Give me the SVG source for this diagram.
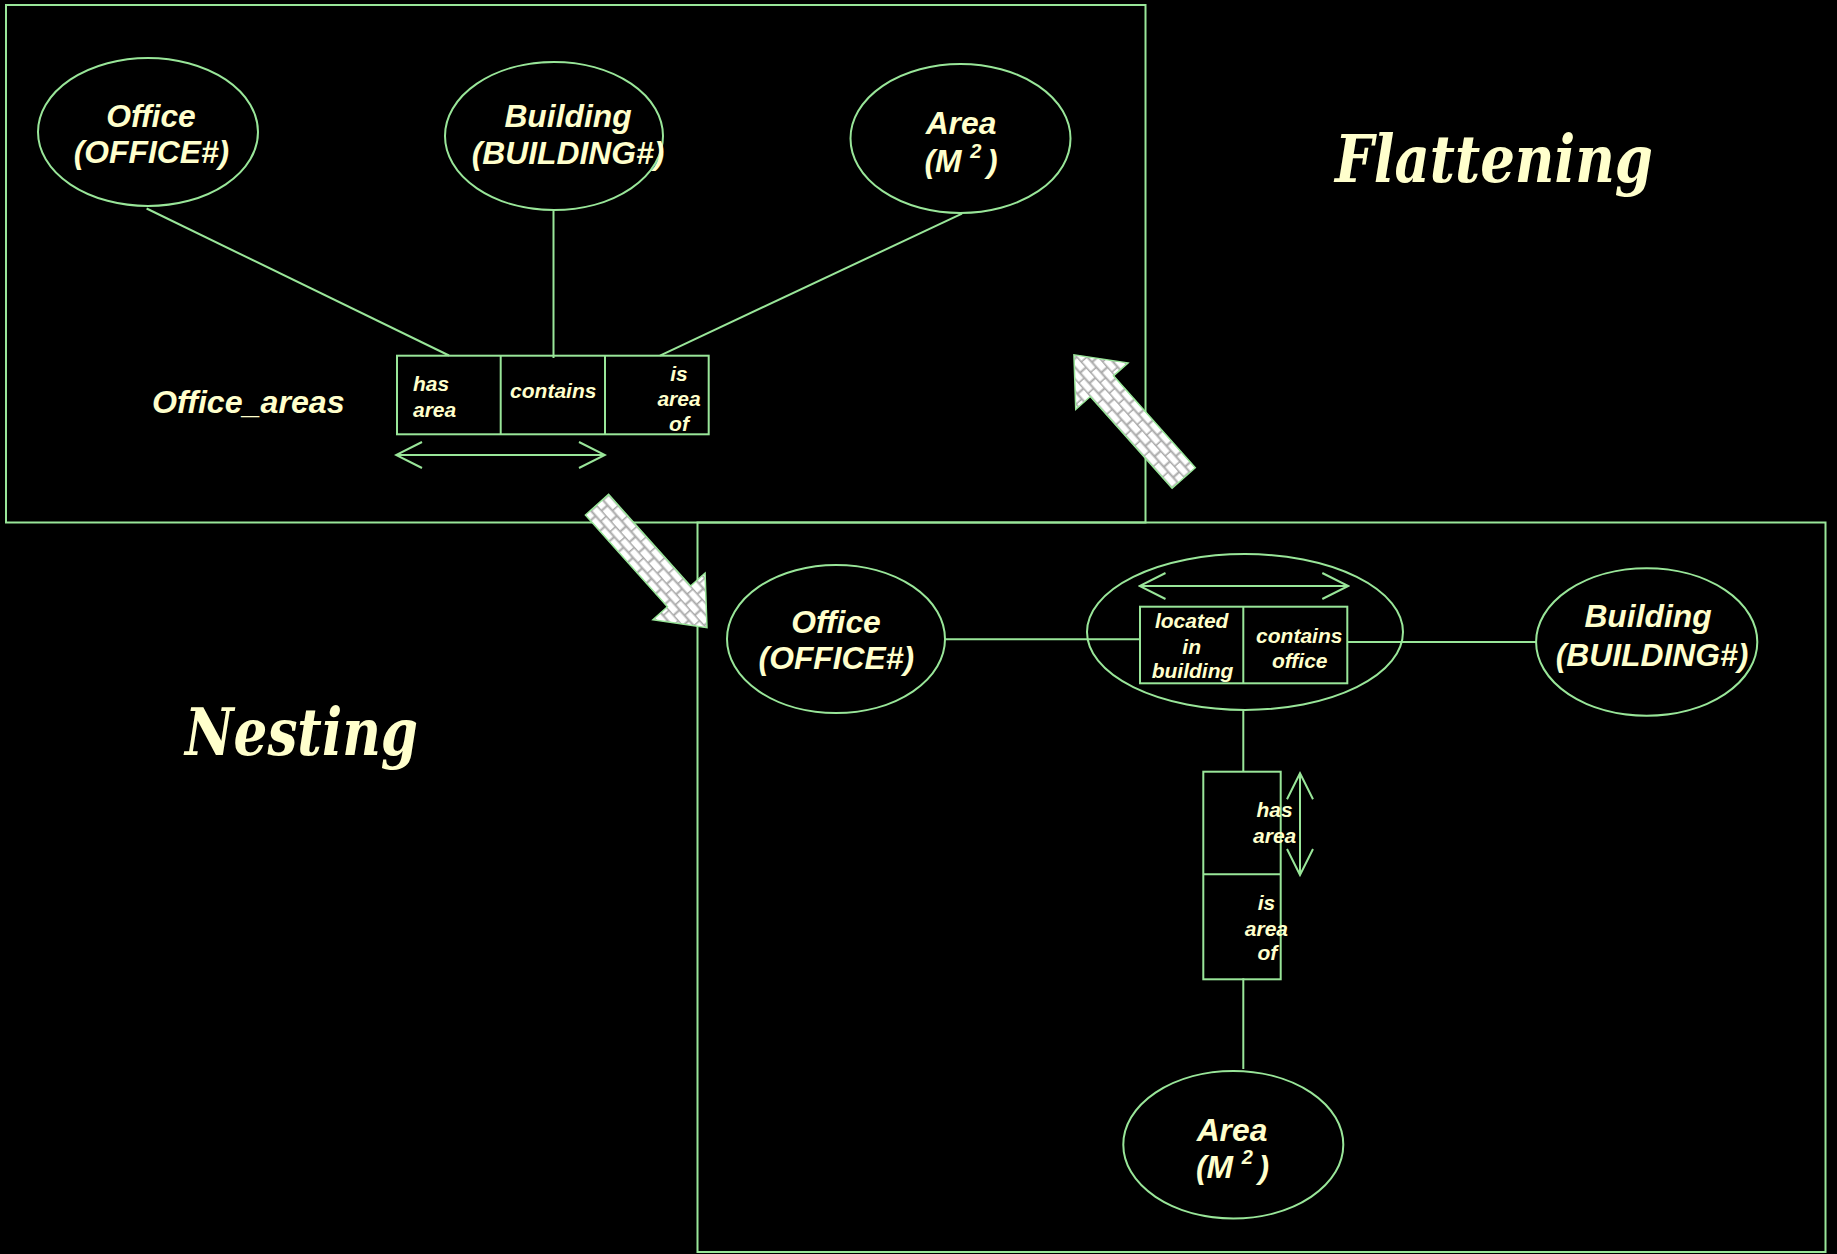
<svg xmlns="http://www.w3.org/2000/svg" width="1837" height="1254" viewBox="0 0 1837 1254">
<style>
.ln{fill:none;stroke:#99e699;stroke-width:2}
.box{fill:none;stroke:#99e699;stroke-width:2}
.ell{fill:none;stroke:#99e699;stroke-width:2}
.t{font-family:"Liberation Sans",Arial,sans-serif;font-weight:bold;font-style:italic;fill:#ffffcc}
.ent{font-size:31.8px;text-anchor:middle}
.rel{font-size:21px}
.mid{text-anchor:middle}
.title{font-family:"DejaVu Serif Condensed","DejaVu Serif",serif;font-weight:bold;font-style:italic;font-size:66px;fill:#ffffcc}
.bigarrow{fill:url(#brick);stroke:#99e699;stroke-width:1.5}
</style>
<defs>
<marker id="chev" viewBox="-28 -15 30 30" refX="0" refY="0" markerWidth="30" markerHeight="30" markerUnits="userSpaceOnUse" orient="auto-start-reverse">
<path d="M-26,-13 L0,0 L-26,13" fill="none" stroke="#99e699" stroke-width="2"/>
</marker>
<pattern id="brick" width="14" height="16" patternUnits="userSpaceOnUse">
<rect width="14" height="16" fill="#ffffff"/>
<path d="M0,0.5 H14 M0,8.5 H14 M0.5,0 V8 M7.5,8 V16" stroke="#a8a8a8" stroke-width="2" fill="none"/>
</pattern>
<path id="fatarrow" d="M0,-15.5 L123,-15.5 L123,-35 L165,0 L123,35 L123,15.5 L0,15.5 Z"/>
</defs>
<rect x="0" y="0" width="1837" height="1254" fill="#000000"/>

<g id="frame-flattening">
<rect class="box" x="6" y="5" width="1139.5" height="517.5"/>
</g>
<g id="frame-nesting">
<rect class="box" x="697.5" y="522.5" width="1128" height="729.5"/>
</g>

<g id="connectors">
<line class="ln" x1="146.6" y1="208.5" x2="449" y2="355.5"/>
<line class="ln" x1="553.5" y1="210" x2="553.5" y2="358"/>
<line class="ln" x1="962" y1="213.6" x2="660" y2="355.6"/>
<line class="ln" x1="396" y1="455" x2="605" y2="455" marker-start="url(#chev)" marker-end="url(#chev)"/>
<line class="ln" x1="945" y1="639.3" x2="1140" y2="639.3"/>
<line class="ln" x1="1347.3" y1="642" x2="1537" y2="642"/>
<line class="ln" x1="1243.3" y1="710" x2="1243.3" y2="771.7"/>
<line class="ln" x1="1243.3" y1="978.3" x2="1243.3" y2="1069"/>
<line class="ln" x1="1139.5" y1="586" x2="1348.3" y2="586" marker-start="url(#chev)" marker-end="url(#chev)"/>
<line class="ln" x1="1300" y1="773.3" x2="1300" y2="875" marker-start="url(#chev)" marker-end="url(#chev)"/>
<use href="#fatarrow" class="bigarrow" transform="translate(597,504.7) rotate(48.2)"/>
<use href="#fatarrow" class="bigarrow" transform="translate(1183.7,478) rotate(-131.7)"/>
</g>

<g id="title-flattening">
<text class="title" x="1335" y="181.7" textLength="318" lengthAdjust="spacingAndGlyphs">Flattening</text>
</g>
<g id="title-nesting">
<text class="title" x="185" y="755" textLength="233" lengthAdjust="spacingAndGlyphs">Nesting</text>
</g>

<g id="f-office">
<ellipse class="ell" cx="148" cy="132" rx="110" ry="74"/>
<text class="t ent" x="151" y="127.3">Office</text>
<text class="t ent" x="151.5" y="163.3">(OFFICE#)</text>
</g>
<g id="f-building">
<ellipse class="ell" cx="554" cy="136" rx="109" ry="74"/>
<text class="t ent" x="568" y="126.5">Building</text>
<text class="t ent" x="568" y="164">(BUILDING#)</text>
</g>
<g id="f-area">
<ellipse class="ell" cx="960.5" cy="138.5" rx="110" ry="74.5"/>
<text class="t ent" x="961" y="133.5">Area</text>
<text class="t ent" x="961" y="171.5"><tspan>(M </tspan><tspan dy="-14" font-size="20">2 </tspan><tspan dy="14">)</tspan></text>
</g>
<g id="f-office-areas">
<text class="t" font-size="32.2" x="152" y="413">Office_areas</text>
<rect class="box" x="397" y="355.7" width="311.7" height="78.6"/>
<line class="ln" x1="500.7" y1="355.7" x2="500.7" y2="434.3"/>
<line class="ln" x1="605" y1="355.7" x2="605" y2="434.3"/>
<text class="t rel" x="413" y="390.7">has</text>
<text class="t rel" x="413" y="416.7">area</text>
<text class="t rel mid" x="553.3" y="398">contains</text>
<text class="t rel mid" x="679" y="381">is</text>
<text class="t rel mid" x="679" y="405.7">area</text>
<text class="t rel mid" x="679" y="430.7">of</text>
</g>

<g id="n-office">
<ellipse class="ell" cx="836" cy="639" rx="109" ry="74"/>
<text class="t ent" x="836" y="633.3">Office</text>
<text class="t ent" x="836.3" y="669.3">(OFFICE#)</text>
</g>
<g id="n-located">
<ellipse class="ell" cx="1245" cy="632" rx="158" ry="78"/>
<rect class="box" x="1140" y="606.7" width="207.3" height="76.6"/>
<line class="ln" x1="1243.3" y1="606.7" x2="1243.3" y2="683.3"/>
<text class="t rel mid" x="1191.7" y="628.3">located</text>
<text class="t rel mid" x="1191.7" y="654.3">in</text>
<text class="t rel mid" x="1192.5" y="678.3">building</text>
<text class="t rel mid" x="1299.3" y="642.7">contains</text>
<text class="t rel mid" x="1299.7" y="668.3">office</text>
</g>
<g id="n-building">
<ellipse class="ell" cx="1646.7" cy="642" rx="110.6" ry="73.7"/>
<text class="t ent" x="1648" y="627.3">Building</text>
<text class="t ent" x="1652" y="666">(BUILDING#)</text>
</g>
<g id="n-has-area">
<rect class="box" x="1203.3" y="771.7" width="77.4" height="207.6"/>
<line class="ln" x1="1203.3" y1="874.3" x2="1280.7" y2="874.3"/>
<text class="t rel mid" x="1274.5" y="816.7">has</text>
<text class="t rel mid" x="1274.7" y="842.7">area</text>
<text class="t rel mid" x="1266.5" y="910">is</text>
<text class="t rel mid" x="1266.4" y="935.7">area</text>
<text class="t rel mid" x="1267.3" y="960">of</text>
</g>
<g id="n-area">
<ellipse class="ell" cx="1233.3" cy="1144.7" rx="110" ry="73.7"/>
<text class="t ent" x="1232" y="1140.7">Area</text>
<text class="t ent" x="1232.5" y="1178.3"><tspan>(M </tspan><tspan dy="-14" font-size="20">2 </tspan><tspan dy="14">)</tspan></text>
</g>
</svg>
